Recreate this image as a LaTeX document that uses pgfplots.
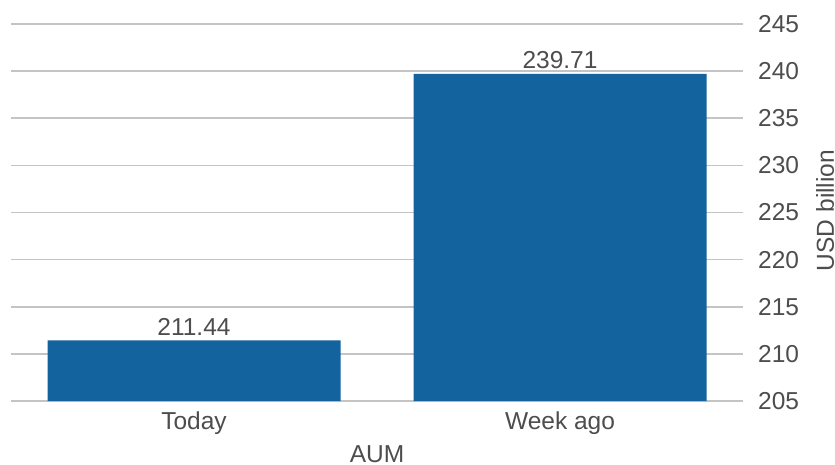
\documentclass[border=0pt]{standalone}
\usepackage{fontspec}
\setmainfont{Liberation Sans}
\usepackage{pgfplots}
\pgfplotsset{compat=1.18}
\definecolor{barblue}{HTML}{12639E}
\definecolor{txt}{HTML}{4D4D4D}
\definecolor{gridc}{HTML}{C4C4C4}
\begin{document}
\begin{tikzpicture}
\begin{axis}[
  scale only axis,
  width=732pt, height=377pt,
  xmin=-0.5, xmax=1.5,
  ymin=205, ymax=245,
  ytick={205,210,...,245},
  xtick={0,1},
  xticklabels={Today,Week ago},
  axis line style={draw=none},
  major tick length=0pt,
  ymajorgrids,
  grid style={gridc, line width=1.6pt},
  yticklabel pos=right,
  /pgf/number format/assume math mode=true,
  font=\fontsize{24.5}{29}\selectfont,
  ticklabel style={text=txt, font=\fontsize{24.5}{29}\selectfont},
  yticklabel style={anchor=west, inner sep=0pt, xshift=15pt},
  xticklabel style={anchor=base, inner sep=0pt, yshift=-28pt},
  xlabel={AUM},
  ylabel={USD billion},
  xlabel style={at={(axis description cs:0.5,0)}, anchor=base, inner sep=0pt, yshift=-61.5pt, text=txt},
  ylabel style={at={(axis description cs:1,0.5)}, anchor=center, inner sep=0pt, yshift=-82pt, xshift=2pt, text=txt},
  clip=true,
]
\coordinate (O) at (rel axis cs:0,0);
\addplot[ybar, bar width=293pt, bar shift=0pt, fill=barblue, draw=none,
  point meta=explicit symbolic,
  nodes near coords,
  every node near coord/.append style={anchor=base, inner sep=0pt, yshift=5pt, text=txt, font=\fontsize{24.5}{29}\selectfont}]
  coordinates {(0,211.44) [211.44] (1,239.71) [239.71]};
\end{axis}
\pgfresetboundingbox
\path[use as bounding box] ([shift={(-11pt,-63pt)}]O) rectangle ([shift={(824pt,401pt)}]O);
\end{tikzpicture}
\end{document}
